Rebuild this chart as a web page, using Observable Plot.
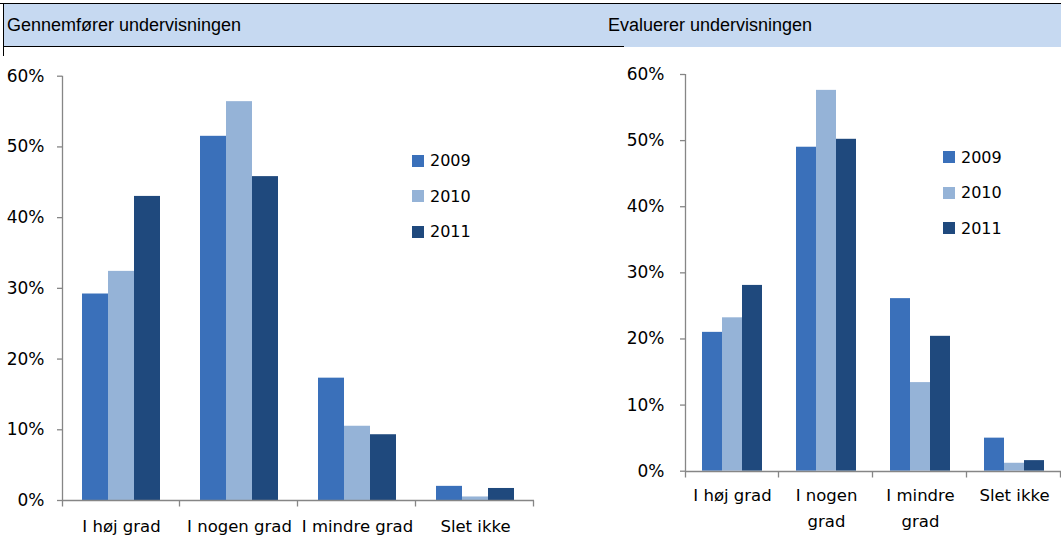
<!DOCTYPE html>
<html><head><meta charset="utf-8">
<script src="https://cdn.jsdelivr.net/npm/d3@7"></script>
<script src="https://cdn.jsdelivr.net/npm/@observablehq/plot@0.6"></script>
<style>
body{margin:0;background:#fff;}
#wrap{position:relative;width:1061px;height:537px;overflow:hidden;background:#fff;}
.band{position:absolute;left:3px;top:3px;width:1058px;height:44px;background:#c6d9f1;}
.topline{position:absolute;left:0;top:3px;width:1061px;height:1px;background:#000;}
.leftbox{position:absolute;left:3px;top:3px;width:621px;height:44px;border-left:1px solid #000;border-bottom:1px solid #000;box-sizing:border-box;}
.ext{position:absolute;left:3px;top:47px;width:1px;height:9px;background:#000;}
.title{position:absolute;top:16px;font-family:"Liberation Sans",Arial,sans-serif;font-size:18px;line-height:18px;color:#000;white-space:nowrap;}
.chart{position:absolute;top:55px;}
.legend{position:absolute;font-family:"DejaVu Sans",sans-serif;font-size:16px;color:#000;}
.legend .row{display:flex;align-items:center;height:35.5px;}
.legend .sw{width:12px;height:12px;margin-right:6px;}
</style></head><body>
<div id="wrap">
  <div class="band"></div>
  <div class="topline"></div>
  <div class="leftbox"></div>
  <div class="ext"></div>
  <div class="title" id="t1" style="left:7px"></div>
  <div class="title" id="t2" style="left:608px"></div>
  <div class="chart" id="c1" style="left:0px"></div>
  <div class="chart" id="c2" style="left:600px"></div>
  <div class="legend" id="l1" style="left:412px;top:143px"></div>
  <div class="legend" id="l2" style="left:943px;top:139.5px"></div>
</div>
<script>
const categories = ["I høj grad", "I nogen grad", "I mindre grad", "Slet ikke"];
const leftCategoryLabels = ["I høj grad", "I nogen grad", "I mindre grad", "Slet ikke"];
const rightCategoryLabels = ["I høj grad", "I nogen\ngrad", "I mindre\ngrad", "Slet ikke"];
const years = ["2009", "2010", "2011"];
const leftTitle = "Gennemfører undervisningen";
const rightTitle = "Evaluerer undervisningen";
// Gennemfører undervisningen (%)
const gennemfoerer2009 = [29.2, 51.5, 17.3, 2.0];
const gennemfoerer2010 = [32.4, 56.4, 10.5, 0.5];
const gennemfoerer2011 = [43.0, 45.8, 9.3, 1.7];
// Evaluerer undervisningen (%)
const evaluerer2009 = [21.0, 49.0, 26.1, 5.0];
const evaluerer2010 = [23.2, 57.6, 13.4, 1.2];
const evaluerer2011 = [28.1, 50.2, 20.4, 1.6];
const yTicks = [0, 10, 20, 30, 40, 50, 60];
const colors = ["#3a70ba", "#95b3d7", "#1f497d"];
const axisColor = "#868686";

document.getElementById("t1").textContent = leftTitle;
document.getElementById("t2").textContent = rightTitle;

function decor(data) {
  return Plot.ruleY(data, {
    fx: "cat", y: () => 0,
    render(index, scales) {
      const g = d3.create("svg:g").attr("stroke", axisColor).attr("fill", "none").attr("stroke-width", 1.3);
      if (!index.length) return g.node();
      const first = data[index[0]].cat === categories[0];
      const [x0, x1] = scales.x.range();
      const y0 = Math.round(scales.y(0)) + 0.5;
      const top = scales.y(60);
      g.append("path").attr("d", `M${x0},${y0}H${x1}`);
      g.append("path").attr("d", `M${x1 - 0.5},${y0}V${y0 + 6}`);
      if (first) g.append("path").attr("d", `M${x0 + 0.5},${top}V${y0 + 6}`);
      return g.node();
    }
  });
}

function chart(series, labels, o) {
  const rows = [];
  categories.forEach((c, i) => years.forEach((y, j) => rows.push({cat: c, year: y, value: series[j][i]})));
  const catRows = categories.map(c => ({cat: c}));
  return Plot.plot({
    width: o.width, height: 482,
    marginLeft: o.marginLeft, marginRight: o.marginRight, marginTop: o.marginTop, marginBottom: o.marginBottom,
    style: {fontFamily: "DejaVu Sans, sans-serif", fontSize: "16.5px", background: "transparent", color: "#000", overflow: "visible"},
    fx: {domain: categories, padding: 0},
    x: {domain: years, paddingInner: 0, paddingOuter: 0.75, axis: null},
    y: {domain: [0, 60]},
    color: {domain: years, range: colors},
    marks: [
      Plot.barY(rows, {fx: "cat", x: "year", y: "value", fill: "year"}),
      decor(catRows),
      Plot.axisY({ticks: yTicks, tickSize: 5, tickPadding: o.yPad, tickFormat: d => d + "%", label: null, stroke: axisColor, strokeWidth: 1.3, fill: "#000", fontSize: 17}),
      Plot.axisFx({anchor: "bottom", tickSize: 0, tickPadding: o.xPad, label: null, fill: "#000", fontSize: 16.5, lineHeight: 1.58,
        tickFormat: d => labels[categories.indexOf(d)]})
    ]
  });
}

document.getElementById("c1").append(chart([gennemfoerer2009, gennemfoerer2010, gennemfoerer2011], leftCategoryLabels,
  {width: 600, marginLeft: 61, marginRight: 65, marginTop: 20.7, marginBottom: 37, yPad: 13, xPad: 12.5}));
document.getElementById("c2").append(chart([evaluerer2009, evaluerer2010, evaluerer2011], rightCategoryLabels,
  {width: 461, marginLeft: 85, marginRight: 0, marginTop: 19, marginBottom: 66.3, yPad: 16, xPad: 11.5}));

function legend(id) {
  const el = document.getElementById(id);
  years.forEach((y, i) => {
    const row = document.createElement("div"); row.className = "row";
    const sw = document.createElement("div"); sw.className = "sw"; sw.style.background = colors[i];
    const tx = document.createElement("span"); tx.textContent = y;
    row.append(sw, tx); el.append(row);
  });
}
legend("l1"); legend("l2");
</script>
</body></html>
